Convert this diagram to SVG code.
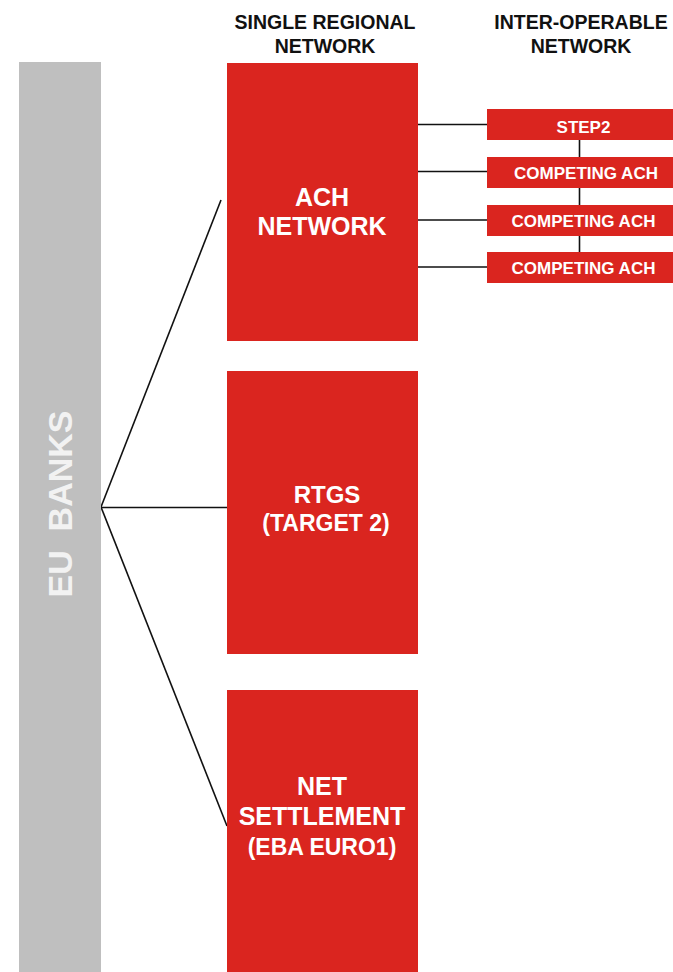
<svg xmlns="http://www.w3.org/2000/svg" width="673" height="972" viewBox="0 0 673 972">
<style>
.bg{fill:#ffffff}
.red{fill:#DA251F}
.gray{fill:#BFBFBF}
.hdr{font-family:"Liberation Sans",Arial,sans-serif;font-weight:bold;font-size:19.5px;fill:#111111;text-anchor:middle}
.big{font-family:"Liberation Sans",Arial,sans-serif;font-weight:bold;font-size:25px;fill:#ffffff;text-anchor:middle}
.mid{font-family:"Liberation Sans",Arial,sans-serif;font-weight:bold;font-size:23px;fill:#ffffff;text-anchor:middle}
.rt{font-family:"Liberation Sans",Arial,sans-serif;font-weight:bold;font-size:24px;fill:#ffffff;text-anchor:middle}
.sm{font-family:"Liberation Sans",Arial,sans-serif;font-weight:bold;font-size:17px;fill:#ffffff;text-anchor:middle}
.eu{font-family:"Liberation Sans",Arial,sans-serif;font-weight:bold;font-size:34px;fill:#F2F2F2;text-anchor:middle;white-space:pre}
.ln{stroke:#111111;stroke-width:1.6;fill:none}
</style>
<rect class="bg" x="0" y="0" width="673" height="972"/>
<g id="headers">
<text class="hdr" x="325" y="29">SINGLE REGIONAL</text>
<text class="hdr" x="325" y="52.5">NETWORK</text>
<text class="hdr" x="581" y="29">INTER-OPERABLE</text>
<text class="hdr" x="581" y="52.5">NETWORK</text>
</g>
<g id="connectors">
<line class="ln" x1="101" y1="507" x2="221" y2="200"/>
<line class="ln" x1="101" y1="507.5" x2="227" y2="507.5"/>
<line class="ln" x1="101" y1="507" x2="227" y2="826"/>
<line class="ln" x1="418" y1="124.5" x2="487" y2="124.5"/>
<line class="ln" x1="418" y1="171.5" x2="487" y2="171.5"/>
<line class="ln" x1="418" y1="220" x2="487" y2="220"/>
<line class="ln" x1="418" y1="267" x2="487" y2="267"/>
<line class="ln" x1="579.5" y1="140" x2="579.5" y2="157"/>
<line class="ln" x1="579.5" y1="188" x2="579.5" y2="205"/>
<line class="ln" x1="579.5" y1="236" x2="579.5" y2="252"/>
</g>
<g id="eu-banks">
<rect class="gray" x="19" y="62" width="82" height="910"/>
<text class="eu" transform="translate(72,504) rotate(-90)">EU  BANKS</text>
</g>
<g id="ach">
<rect class="red" x="227" y="63" width="191" height="278"/>
<text class="big" x="322" y="205.5">ACH</text>
<text class="big" x="322" y="235">NETWORK</text>
</g>
<g id="rtgs">
<rect class="red" x="227" y="371" width="191" height="283"/>
<text class="rt" x="327" y="502.5">RTGS</text>
<text class="mid" x="326" y="531">(TARGET 2)</text>
</g>
<g id="net">
<rect class="red" x="227" y="690" width="191" height="282"/>
<text class="big" x="322" y="795">NET</text>
<text class="big" x="322" y="825">SETTLEMENT</text>
<text class="mid" x="322" y="855">(EBA EURO1)</text>
</g>
<g id="step2">
<rect class="red" x="487" y="109" width="186" height="31"/>
<text class="sm" x="583.5" y="133">STEP2</text>
</g>
<g id="competing1">
<rect class="red" x="487" y="157" width="186" height="31"/>
<text class="sm" x="586" y="179">COMPETING ACH</text>
</g>
<g id="competing2">
<rect class="red" x="487" y="205" width="186" height="31"/>
<text class="sm" x="583.5" y="226.7">COMPETING ACH</text>
</g>
<g id="competing3">
<rect class="red" x="487" y="252" width="186" height="31"/>
<text class="sm" x="583.5" y="273.7">COMPETING ACH</text>
</g>
</svg>
